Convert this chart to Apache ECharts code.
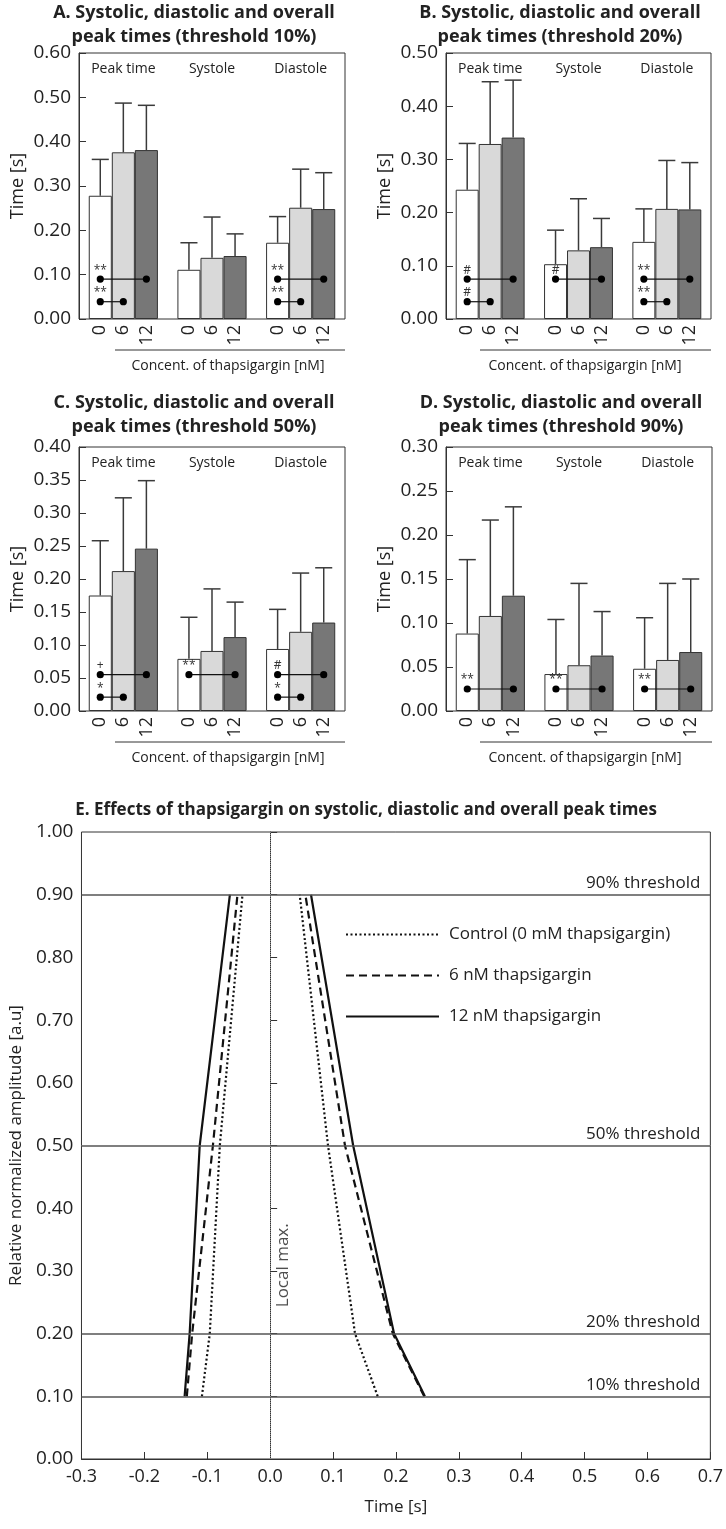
<!DOCTYPE html>
<html><head><meta charset="utf-8">
<script src="https://cdn.jsdelivr.net/npm/echarts@6/dist/echarts.min.js"></script>
<style>html,body{margin:0;padding:0;background:#fff}#c{width:726px;height:1529px}</style>
</head><body><div id="c"></div>
<script>
// ---------- DATA ----------
const groups = ['Peak time', 'Systole', 'Diastole'];
const concLabels = ['0', '6', '12'];

// Panel A (threshold 10%)
const A_mean0 = [0.278, 0.111, 0.172];  const A_top0 = [0.360, 0.172, 0.231];
const A_mean6 = [0.376, 0.138, 0.251];  const A_top6 = [0.487, 0.230, 0.338];
const A_mean12 = [0.381, 0.142, 0.248]; const A_top12 = [0.482, 0.192, 0.330];
// Panel B (threshold 20%)
const B_mean0 = [0.243, 0.103, 0.145];  const B_top0 = [0.330, 0.167, 0.207];
const B_mean6 = [0.329, 0.129, 0.207];  const B_top6 = [0.446, 0.226, 0.298];
const B_mean12 = [0.341, 0.135, 0.206]; const B_top12 = [0.449, 0.189, 0.294];
// Panel C (threshold 50%)
const C_mean0 = [0.175, 0.079, 0.094];  const C_top0 = [0.258, 0.142, 0.154];
const C_mean6 = [0.212, 0.091, 0.120];  const C_top6 = [0.323, 0.185, 0.209];
const C_mean12 = [0.246, 0.112, 0.134]; const C_top12 = [0.349, 0.165, 0.217];
// Panel D (threshold 90%)
const D_mean0 = [0.088, 0.042, 0.048];  const D_top0 = [0.172, 0.104, 0.106];
const D_mean6 = [0.108, 0.052, 0.058];  const D_top6 = [0.217, 0.145, 0.145];
const D_mean12 = [0.131, 0.063, 0.067]; const D_top12 = [0.232, 0.113, 0.150];

// significance brackets: [group, fromBar, toBar, y]
const A_sig = [[0,0,2,0.090],[0,0,1,0.039],[2,0,2,0.090],[2,0,1,0.039]];
const A_sigText = ['**','**','**','**'];
const B_sig = [[0,0,2,0.075],[0,0,1,0.0325],[1,0,2,0.075],[2,0,2,0.075],[2,0,1,0.0325]];
const B_sigText = ['#','#','#','**','**'];
const C_sig = [[0,0,2,0.055],[0,0,1,0.021],[1,0,2,0.055],[2,0,2,0.055],[2,0,1,0.021]];
const C_sigText = ['+','*','**','#','*'];
const D_sig = [[0,0,2,0.025],[1,0,2,0.025],[2,0,2,0.025]];
const D_sigText = ['**','**','**'];

// Panel E
const thresholds = [0.1, 0.2, 0.5, 0.9];
const thresholdLabels = ['10% threshold', '20% threshold', '50% threshold', '90% threshold'];
const eNames = ['Control (0 mM thapsigargin)', '6 nM thapsigargin', '12 nM thapsigargin'];
const rise0 = [-0.1085, -0.096, -0.080, -0.044];
const fall0 = [0.171, 0.135, 0.092, 0.047];
const rise6 = [-0.1325, -0.124, -0.091, -0.052];
const fall6 = [0.245, 0.195, 0.119, 0.056];
const rise12 = [-0.136, -0.128, -0.112, -0.064];
const fall12 = [0.246, 0.197, 0.132, 0.065];

// ---------- STYLE / LAYOUT ----------
const FONT = 'Open Sans';
const TXT = '#222';
const fills = ['#ffffff', '#d9d9d9', '#777777'];
const BAR_FRAC = 0.26;

const panels = [
  {t1:'A. Systolic, diastolic and overall', t2:'peak times (threshold 10%)', tx:194, ty:2,
   grid:{left:79, top:53, width:266, height:266}, max:0.6, interval:0.1,
   means:[A_mean0,A_mean6,A_mean12], tops:[A_top0,A_top6,A_top12], sig:A_sig, sigText:A_sigText,
   ulx:[115,345], uly:350, ctx:228, cty:366},
  {t1:'B. Systolic, diastolic and overall', t2:'peak times (threshold 20%)', tx:560, ty:2,
   grid:{left:446, top:53, width:265, height:266}, max:0.5, interval:0.1,
   means:[B_mean0,B_mean6,B_mean12], tops:[B_top0,B_top6,B_top12], sig:B_sig, sigText:B_sigText,
   ulx:[480,711], uly:350, ctx:585, cty:366},
  {t1:'C. Systolic, diastolic and overall', t2:'peak times (threshold 50%)', tx:194, ty:392,
   grid:{left:79, top:447, width:266, height:264}, max:0.4, interval:0.05,
   means:[C_mean0,C_mean6,C_mean12], tops:[C_top0,C_top6,C_top12], sig:C_sig, sigText:C_sigText,
   ulx:[115,345], uly:742, ctx:228, cty:758},
  {t1:'D. Systolic, diastolic and overall', t2:'peak times (threshold 90%)', tx:561, ty:392,
   grid:{left:446, top:447, width:266, height:264}, max:0.3, interval:0.05,
   means:[D_mean0,D_mean6,D_mean12], tops:[D_top0,D_top6,D_top12], sig:D_sig, sigText:D_sigText,
   ulx:[480,712], uly:742, ctx:585, cty:758}
];

const option = {
  animation:false, backgroundColor:'#fff',
  textStyle:{fontFamily:FONT, color:TXT},
  title:[], grid:[], xAxis:[], yAxis:[], series:[], graphic:[],
  legend:{
    data:eNames, orient:'vertical', left:340, top:921, itemWidth:93, itemHeight:14, itemGap:24,
    itemStyle:{opacity:0, color:'transparent', borderColor:'transparent'},
    textStyle:{fontFamily:FONT, fontSize:17, color:TXT, padding:[0,0,0,5]}
  }
};

function titleLine(text, x, y, size) {
  return {text:text, left:x, top:y, textAlign:'center', padding:0,
    textStyle:{fontFamily:FONT, fontSize:size, fontWeight:'bold', color:TXT, lineHeight:22}};
}

panels.forEach((p, gi) => {
  option.title.push(titleLine(p.t1, p.tx, p.ty, 18));
  option.title.push(titleLine(p.t2, p.tx, p.ty + 24, 18));
  option.grid.push(Object.assign({show:true, borderColor:'#333', borderWidth:1, backgroundColor:'transparent'}, p.grid));
  option.xAxis.push({type:'category', gridIndex:gi, data:groups, position:'top',
    axisLine:{show:false}, axisTick:{show:false},
    axisLabel:{inside:true, margin:9, fontSize:14, color:TXT, fontFamily:FONT}});
  option.yAxis.push({type:'value', gridIndex:gi, min:0, max:p.max, interval:p.interval,
    axisLine:{show:true, lineStyle:{color:'#333'}},
    axisTick:{show:true, inside:true, length:7, lineStyle:{color:'#333'}},
    splitLine:{show:false},
    axisLabel:{fontSize:19, color:TXT, margin:8, fontFamily:FONT, formatter:v=>v.toFixed(2)},
    name:'Time [s]', nameLocation:'middle', nameGap:52,
    nameTextStyle:{fontSize:18, color:TXT, fontFamily:FONT}});
  for (let k = 0; k < 3; k++) {
    option.series.push({type:'bar', name:concLabels[k], xAxisIndex:gi, yAxisIndex:gi,
      data:p.means[k], barWidth:(BAR_FRAC*100)+'%', barGap:'0%',
      itemStyle:{color:fills[k], borderColor:'#333', borderWidth:1},
      label:{show:true, position:'bottom', formatter:concLabels[k], rotate:90, align:'right',
        verticalAlign:'middle', distance:6, fontSize:18, color:TXT, fontFamily:FONT}});
  }
  // error bars
  const errData = [];
  for (let k = 0; k < 3; k++) for (let g = 0; g < 3; g++) errData.push([g, k, p.means[k][g], p.tops[k][g]]);
  option.series.push({type:'custom', xAxisIndex:gi, yAxisIndex:gi, z:5, data:errData,
    renderItem:(params, api) => {
      const bw = api.size([1, 0])[0] * BAR_FRAC;
      const base = api.coord([api.value(0), api.value(2)]);
      const top = api.coord([api.value(0), api.value(3)]);
      const x = base[0] + (api.value(1) - 1) * bw;
      const cap = bw * 0.37;
      const st = {stroke:'#3a3a3a', lineWidth:1.5, fill:null};
      return {type:'group', children:[
        {type:'line', shape:{x1:x, y1:base[1], x2:x, y2:top[1]}, style:st},
        {type:'line', shape:{x1:x-cap, y1:top[1], x2:x+cap, y2:top[1]}, style:st}
      ]};
    }});
  // significance brackets
  const sigText = p.sigText;
  option.series.push({type:'custom', xAxisIndex:gi, yAxisIndex:gi, z:6, data:p.sig,
    renderItem:(params, api) => {
      const bw = api.size([1, 0])[0] * BAR_FRAC;
      const c = api.coord([api.value(0), api.value(3)]);
      const x1 = c[0] + (api.value(1) - 1) * bw;
      const x2 = c[0] + (api.value(2) - 1) * bw;
      return {type:'group', children:[
        {type:'line', shape:{x1:x1, y1:c[1], x2:x2, y2:c[1]}, style:{stroke:'#111', lineWidth:1.2}},
        {type:'circle', shape:{cx:x1, cy:c[1], r:3.6}, style:{fill:'#000'}},
        {type:'circle', shape:{cx:x2, cy:c[1], r:3.6}, style:{fill:'#000'}},
        {type:'text', style:{text:sigText[params.dataIndex], x:x1, y:c[1]-3, align:'center',
          verticalAlign:'bottom', font:'12px "Open Sans"', fill:'#333'}}
      ]};
    }});
  // underline + concentration caption
  option.graphic.push({type:'line', shape:{x1:p.ulx[0], y1:p.uly, x2:p.ulx[1], y2:p.uly},
    style:{stroke:'#333', lineWidth:1}});
  option.graphic.push({type:'text', x:p.ctx, y:p.cty, style:{text:'Concent. of thapsigargin [nM]',
    align:'center', verticalAlign:'middle', font:'14px "Open Sans"', fill:TXT}});
});

// ---------- Panel E ----------
const gE = 4;
option.title.push(titleLine('E. Effects of thapsigargin on systolic, diastolic and overall peak times', 366, 799, 17));
option.grid.push({show:true, left:80, top:832, width:632, height:627, borderColor:'#333', borderWidth:1});
option.xAxis.push({type:'value', gridIndex:gE, min:-0.3, max:0.7, interval:0.1, position:'bottom',
  axisLine:{show:true, lineStyle:{color:'#333'}},
  axisTick:{show:true, inside:true, length:7, lineStyle:{color:'#333'}},
  splitLine:{show:false},
  axisLabel:{fontSize:18, color:TXT, margin:9, fontFamily:FONT,
    formatter:v=>(Math.abs(v)<1e-9?0:v).toFixed(1)},
  name:'Time [s]', nameLocation:'middle', nameGap:40,
  nameTextStyle:{fontSize:17, color:TXT, fontFamily:FONT}});
option.yAxis.push({type:'value', gridIndex:gE, min:0, max:1, interval:0.1,
  axisLine:{show:true, lineStyle:{color:'#333'}},
  axisTick:{show:true, inside:true, length:7, lineStyle:{color:'#333'}},
  splitLine:{show:false},
  axisLabel:{fontSize:19, color:TXT, margin:8, fontFamily:FONT, formatter:v=>v.toFixed(2)},
  name:'Relative normalized amplitude [a.u]', nameLocation:'middle', nameGap:55,
  nameTextStyle:{fontSize:17, color:TXT, fontFamily:FONT}});

const eSets = [[rise0, fall0], [rise6, fall6], [rise12, fall12]];
const eDash = [[2, 2.5], [8, 5], 'solid'];
eSets.forEach((set, i) => {
  set.forEach((arr, j) => {
    const s = {type:'line', name:eNames[i], xAxisIndex:gE, yAxisIndex:gE,
      data:arr.map((t, m) => [t, thresholds[m]]),
      symbol:'none', showSymbol:false, z:4,
      lineStyle:{color:'#111', width:2.2, type:eDash[i]}, itemStyle:{color:'#111'}};
    if (i === 0 && j === 0) {
      s.markLine = {silent:true, symbol:'none', animation:false,
        data: thresholds.map((v, m) => ({yAxis:v,
          lineStyle:{color:'#555', width:1.5, type:'solid'},
          label:{show:true, position:'insideEndTop', formatter:thresholdLabels[m],
            fontSize:17, color:TXT, fontFamily:FONT, distance:[10,3]}}))
          .concat([{xAxis:0, lineStyle:{color:'#888', width:1, type:'dotted'}, label:{show:false}}])};
    }
    option.series.push(s);
  });
});
option.series.push({type:'scatter', xAxisIndex:gE, yAxisIndex:gE, data:[[0, 0.309]],
  symbolSize:0, silent:true, itemStyle:{color:'#222'},
  label:{show:true, position:'inside', formatter:'Local max.', rotate:90, offset:[0,13],
    fontSize:17, color:'#222', textBorderWidth:0, textBorderColor:'transparent', fontFamily:FONT}});

const chart = echarts.init(document.getElementById('c'), null, {renderer:'canvas'});
chart.setOption(option);
</script></body></html>
